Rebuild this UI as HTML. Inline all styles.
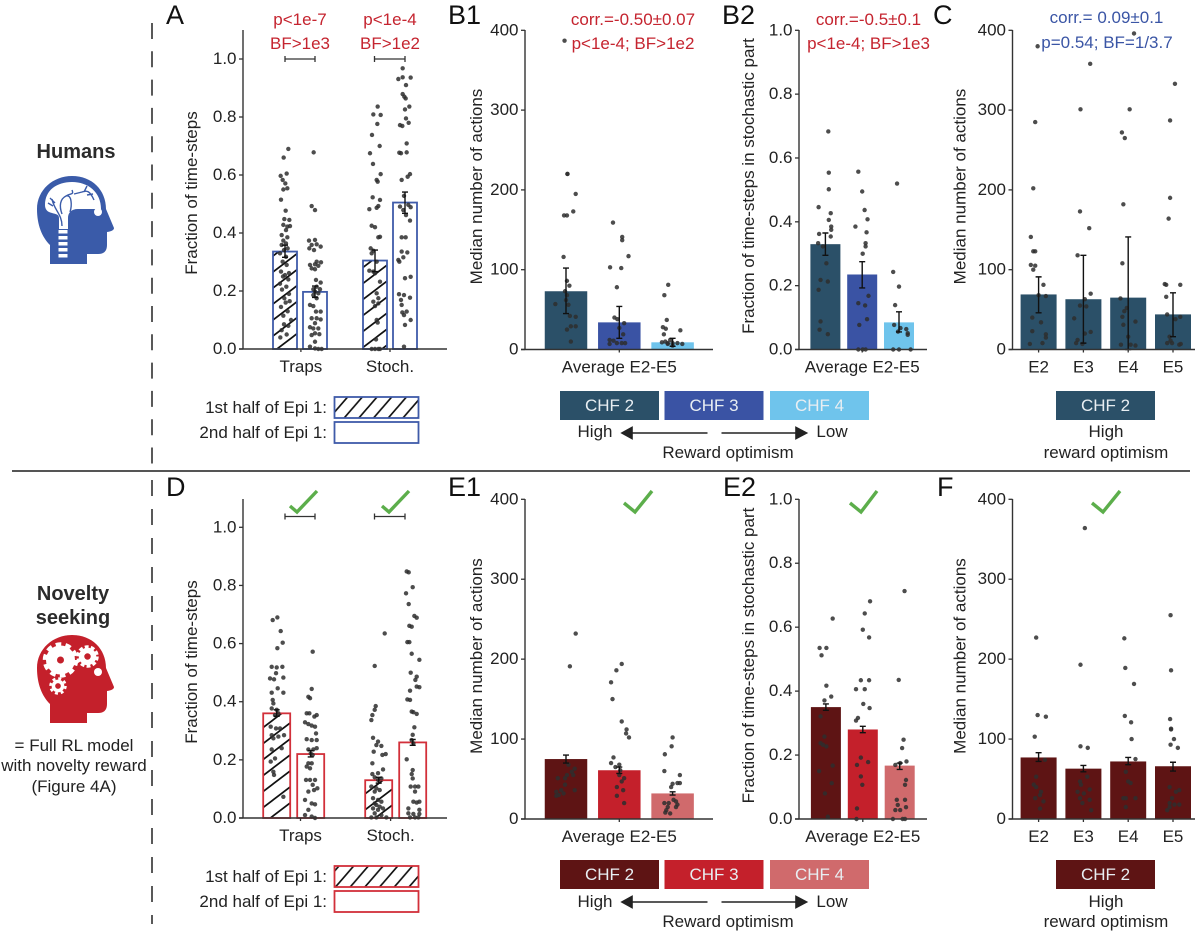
<!DOCTYPE html>
<html lang="en">
<head>
<meta charset="utf-8">
<title>Novelty seeking figure</title>
<style>
html,body{margin:0;padding:0;background:#fff;}
svg{display:block;font-family:"Liberation Sans",sans-serif;}
text{fill:#222;font-size:17px;}
.letter{font-size:27px;fill:#111;}
.red{fill:#c5242f;}
.blue{fill:#3a55a5;}
.m{text-anchor:middle;}
.e{text-anchor:end;}
.white{fill:#e8eef2;}
.head{font-size:20px;font-weight:bold;fill:#2b2b2b;text-anchor:middle;}
</style>
</head>
<body>
<svg id="fig" width="1200" height="933" viewBox="0 0 1200 933" xmlns="http://www.w3.org/2000/svg">
<defs>
<pattern id="hatch-bar" patternUnits="userSpaceOnUse" width="21" height="16"><path d="M-21 16 L21 -16 M0 16 L21 0 M0 32 L42 0" stroke="#111" stroke-width="1.7" fill="none"/></pattern>
<pattern id="hatch-leg" patternUnits="userSpaceOnUse" width="14.7" height="17"><path d="M-14.7 17 L14.7 -17 M0 17 L14.7 0 M0 34 L29.4 0" stroke="#111" stroke-width="1.7" fill="none"/></pattern>
</defs>
<rect width="1200" height="933" fill="#fff"/>

<line x1="12" y1="471" x2="1190" y2="471" stroke="#555" stroke-width="2"/>
<line x1="152" y1="23" x2="152" y2="467" stroke="#222" stroke-width="1.5" stroke-dasharray="16 12.3"/>
<line x1="152" y1="480" x2="152" y2="924" stroke="#222" stroke-width="1.5" stroke-dasharray="16 13"/>

<!-- Left column -->
<text class="head" x="76" y="158">Humans</text>
<g>
<path d="M50 264 V245 C42 237 37 225 37 209 C37 190 53 176 72 176 C92 176 106 190 106 209 L114 228 Q114 231 107 232 V245 Q107 254 98 254 H87 V264 Z" fill="#3a5ba9"/>
<path d="M45 205 C45 190 57 182 72 182 C88 182 101 192 101 209 H78 C71 209 68 213 68 218 V229 H59 V218 C59 214 55 214 52 213 C47 212 45 209 45 205 Z" fill="#fff"/>
<g fill="#fff"><rect x="58.5" y="230" width="9" height="3.5"/><rect x="58.5" y="236" width="9" height="3.5"/><rect x="58.5" y="242" width="9" height="3.5"/><rect x="58.5" y="248" width="9" height="3.5"/><rect x="58.5" y="254" width="9" height="3.5"/></g>
<path d="M62 226 C62 214 54 210 52 199 M50 198 L55 203 M48 203 L53 206 M62 214 C59 206 60 199 66 196 C71 193 74 195 72 190 M66 196 C72 194 72 206 70 212 M74 194 L82 192 C87 190 90 191 94 200 M84 192 L87 186 M87 195 L93 194" fill="none" stroke="#3a5ba9" stroke-width="1.4"/>
<circle cx="98" cy="212" r="4" fill="#fff"/>
</g>

<text class="head" x="73" y="600">Novelty</text>
<text class="head" x="73" y="624">seeking</text>
<g>
<path d="M50 723 V704 C42 696 37 684 37 668 C37 649 53 635 72 635 C92 635 106 649 106 668 L114 687 Q114 690 107 691 V704 Q107 713 98 713 H87 V723 Z" fill="#c4202b"/>
<circle cx="60.5" cy="660" r="9" fill="none" stroke="#fff" stroke-width="11"/>
<circle cx="60.5" cy="660" r="15.5" fill="none" stroke="#fff" stroke-width="4.5" stroke-dasharray="5.5 4.24"/>
<circle cx="87.5" cy="656.5" r="6" fill="none" stroke="#fff" stroke-width="5.5"/>
<circle cx="87.5" cy="656.5" r="9.5" fill="none" stroke="#fff" stroke-width="3.5" stroke-dasharray="3.8 2.17"/>
<circle cx="58" cy="686" r="4.6" fill="none" stroke="#fff" stroke-width="3.5"/>
<circle cx="58" cy="686" r="7.5" fill="none" stroke="#fff" stroke-width="2.5" stroke-dasharray="3 2.89"/>
<circle cx="98" cy="672" r="4" fill="#fff"/>
</g>
<text class="m" x="74" y="751">= Full RL model</text>
<text class="m" x="74" y="771">with novelty reward</text>
<text class="m" x="74" y="792">(Figure 4A)</text>

<!-- Panel letters -->
<text class="letter" x="166" y="24">A</text>
<text class="letter" x="448" y="24">B1</text>
<text class="letter" x="722" y="24">B2</text>
<text class="letter" x="933" y="24">C</text>
<text class="letter" x="166" y="496">D</text>
<text class="letter" x="448" y="496">E1</text>
<text class="letter" x="723" y="496">E2</text>
<text class="letter" x="937" y="496">F</text>

<!-- Annotations -->
<text class="red m" x="300" y="25">p&lt;1e-7</text>
<text class="red m" x="300" y="49">BF&gt;1e3</text>
<text class="red m" x="390" y="25">p&lt;1e-4</text>
<text class="red m" x="390" y="49">BF&gt;1e2</text>
<path d="M285 56 V62 M285 59 H315 M315 56 V62 M374.5 56 V62 M374.5 59 H405 M405 56 V62" stroke="#333" stroke-width="1.3" fill="none"/>
<path d="M285 513.5 V519.5 M285 516.5 H315 M315 513.5 V519.5 M374.5 513.5 V519.5 M374.5 516.5 H405 M405 513.5 V519.5" stroke="#333" stroke-width="1.3" fill="none"/>
<text class="red m" x="633" y="25">corr.=-0.50±0.07</text>
<text class="red m" x="633" y="49">p&lt;1e-4; BF&gt;1e2</text>
<text class="red m" x="868.5" y="25">corr.=-0.5±0.1</text>
<text class="red m" x="868.5" y="49">p&lt;1e-4; BF&gt;1e3</text>
<text class="blue m" x="1106.5" y="23">corr.= 0.09±0.1</text>
<text class="blue m" x="1107" y="48">p=0.54; BF=1/3.7</text>

<g fill="none" stroke="#5cae4b" stroke-width="3.4">
<path d="M290 506 L297 512 L317 491"/>
<path d="M382 506 L389 512 L409 491"/>
<path d="M624 503 L635 512 L652 491"/>
<path d="M850 503 L861 512 L877 491"/>
<path d="M1092 503 L1103 512 L1120 491"/>
</g>

<!-- Hatch legends -->
<text class="e" x="327" y="413">1st half of Epi 1:</text>
<rect x="334.5" y="397" width="84" height="21" fill="url(#hatch-leg)" stroke="#3f5ba9" stroke-width="1.8"/>
<text class="e" x="327" y="438">2nd half of Epi 1:</text>
<rect x="334.5" y="422" width="84" height="21" fill="#fff" stroke="#3f5ba9" stroke-width="1.8"/>
<text class="e" x="327" y="882">1st half of Epi 1:</text>
<rect x="334.5" y="866" width="84" height="21" fill="url(#hatch-leg)" stroke="#d2303a" stroke-width="1.8"/>
<text class="e" x="327" y="907">2nd half of Epi 1:</text>
<rect x="334.5" y="891" width="84" height="21" fill="#fff" stroke="#d2303a" stroke-width="1.8"/>

<!-- CHF legends top -->
<g>
<rect x="560" y="391" width="99" height="29" fill="#2b5068"/>
<text class="m white" x="609.5" y="411">CHF 2</text>
<rect x="664.5" y="391" width="99" height="29" fill="#3a53a4"/>
<text class="m white" x="714" y="411">CHF 3</text>
<rect x="770" y="391" width="99" height="29" fill="#6fc4ec"/>
<text class="m white" x="819.5" y="411">CHF 4</text>
<rect x="1056" y="391" width="99" height="29" fill="#2b5068"/>
<text class="m white" x="1105.5" y="411">CHF 2</text>
</g>
<text class="m" x="595" y="437">High</text>
<path d="M707.5 433 H625 M632 427.5 L622 433 L632 438.5 Z" stroke="#222" stroke-width="1.6" fill="#222"/>
<path d="M721.5 433 H803 M796 427.5 L806.5 433 L796 438.5 Z" stroke="#222" stroke-width="1.6" fill="#222"/>
<text class="m" x="832" y="437">Low</text>
<text class="m" x="728" y="458">Reward optimism</text>
<text class="m" x="1106" y="437">High</text>
<text class="m" x="1106" y="458">reward optimism</text>

<!-- CHF legends bottom -->
<g>
<rect x="560" y="860" width="99" height="29" fill="#5e1414"/>
<text class="m white" x="609.5" y="880">CHF 2</text>
<rect x="664.5" y="860" width="99" height="29" fill="#c4202b"/>
<text class="m white" x="714" y="880">CHF 3</text>
<rect x="770" y="860" width="99" height="29" fill="#d06a6c"/>
<text class="m white" x="819.5" y="880">CHF 4</text>
<rect x="1056" y="860" width="99" height="29" fill="#5e1414"/>
<text class="m white" x="1105.5" y="880">CHF 2</text>
</g>
<text class="m" x="595" y="907">High</text>
<path d="M707.5 902 H625 M632 896.5 L622 902 L632 907.5 Z" stroke="#222" stroke-width="1.6" fill="#222"/>
<path d="M721.5 902 H803 M796 896.5 L806.5 902 L796 907.5 Z" stroke="#222" stroke-width="1.6" fill="#222"/>
<text class="m" x="832" y="907">Low</text>
<text class="m" x="728" y="927">Reward optimism</text>
<text class="m" x="1106" y="907">High</text>
<text class="m" x="1106" y="927">reward optimism</text>

<g id="charts"></g>
</svg>

<script>
/* ---- tick labels ---- */
const fractionTicks = [0, 0.2, 0.4, 0.6, 0.8, 1.0];
const fractionTickLabels = ['0.0', '0.2', '0.4', '0.6', '0.8', '1.0'];
const actionTicks = [0, 100, 200, 300, 400];
const actionTickLabels = ['0', '100', '200', '300', '400'];
const trapCategories = ['Traps', 'Stoch.'];
const averageCategories = ['Average E2-E5'];
const episodeCategories = ['E2', 'E3', 'E4', 'E5'];

/* ---- panel A: bars ---- */
const aMeans = [0.336, 0.197, 0.305, 0.505];
const aErrLow = [0.316, 0.178, 0.267, 0.468];
const aErrHigh = [0.358, 0.217, 0.341, 0.541];
/* ---- panel A: points ---- */
const aTrapsFirstValues = [.69,.66,.605,.597,.583,.571,.554,.55,.515,.477,.448,.445,.428,.422,.424,.41,.393,.385,.374,.364,.359,.347,.341,.33,.318,.301,.29,.267,.262,.255,.25,.24,.225,.215,.205,.19,.175,.165,.16,.145,.13,.115,.1,.085,.08,.065,.05,.04];
const aTrapsFirstJitter = [10,-4,5,-13,-7,1,7,-5,-12,2,-2,13,-5,7,15,3,-10,7,-5,3,-10,8,-3,-15,3,-7,5,-12,12,0,-6,10,-15,4,-9,12,-2,14,2,-12,8,-5,18,-3,10,-10,5,-14];
const aTrapsSecondValues = [.678,.493,.479,.374,.376,.361,.359,.353,.347,.341,.301,.299,.29,.292,.287,.278,.275,.238,.229,.215,.206,.206,.198,.192,.186,.175,.152,.148,.129,.129,.106,.106,.102,.089,.075,.071,.071,.054,.051,.048,.025,.008,.002,0,0];
const aTrapsSecondJitter = [-4,-10,0,-18,0,5,-10,17,-17,-3,5,18,-15,0,10,-10,0,3,17,5,-5,15,0,10,-5,5,-15,-5,3,17,-10,5,17,0,-15,-5,10,0,13,-10,0,-15,0,10,20];
const aStochFirstValues = [.836,.809,.807,.776,.738,.7,.675,.638,.603,.583,.577,.523,.514,.493,.482,.487,.425,.42,.387,.385,.347,.339,.33,.301,.27,.267,.261,.232,.192,.175,.163,.157,.148,.1,.091,.033,0,0,0,0];
const aStochFirstJitter = [8,-5,17,7,-9,14,-15,-6,17,5,8,-7,15,10,-17,5,-10,0,15,10,-13,-5,-10,5,-17,-5,0,15,5,10,-5,10,0,5,8,3,-10,0,10,15];
const aStochSecondValues = [.968,.931,.937,.936,.91,.879,.87,.864,.836,.826,.795,.78,.772,.769,.709,.677,.675,.678,.603,.594,.583,.528,.491,.497,.489,.479,.462,.443,.385,.385,.336,.333,.307,.316,.301,.244,.249,.189,.186,.177,.169,.152,.126,.129,.117,.1,.083,.008];
const aStochSecondJitter = [-7,-20,-7,17,3,-7,-2,2,13,0,3,11,-15,-8,5,-17,-12,5,15,8,-10,-3,-15,10,17,-5,3,15,-10,2,-10,7,-20,-5,-17,0,17,-18,-3,15,-12,-10,-8,5,-3,17,0,-3];

/* ---- panel B1 ---- */
const b1Means = [73, 34, 9];
const b1ErrLow = [45, 14, 4];
const b1ErrHigh = [102, 54, 14];
const b1Chf2Values = [387,220,220,195,173,168,168,116,86,80,73,68,62,57,56,42,41,29,29,25,10];
const b1Chf2Jitter = [-3,3,3,20,15,-4,2,-5,2,7,-2,2,0,-22,5,8,20,10,20,2,10];
const b1Chf3Values = [159,141,137,117,103,102,78,40,38,33,27,19,12,11,8,7,8,8];
const b1Chf3Jitter = [-13,6,6,19,-19,4,-5,-10,-4,10,0,8,-20,-12,-5,-20,5,12];
const b1Chf4Values = [81,68,37,28,26,24,19,12,10,9,8,8,8,7,5,7];
const b1Chf4Jitter = [-9,-17,-12,-20,-14,16,-18,-5,-15,-22,-10,0,10,20,0,-10];

/* ---- panel B2 ---- */
const b2Means = [0.33, 0.235, 0.085];
const b2ErrLow = [0.295, 0.193, 0.055];
const b2ErrHigh = [0.365, 0.275, 0.118];
const b2Chf2Values = [.683,.554,.502,.446,.427,.406,.385,.375,.354,.362,.333,.323,.27,.218,.213,.187,.088,.062,.048];
const b2Chf2Jitter = [6,7,7,-14,11,7,12,12,11,-13,-15,-5,2,-10,5,-14,-10,-12,5];
const b2Chf3Values = [.557,.495,.437,.408,.385,.367,.333,.323,.3,.168,.145,.138,.095,.077,0,0,0];
const b2Chf3Jitter = [-8,0,5,11,-14,9,7,7,1,13,-8,6,10,-6,-8,1,7];
const b2Chf4Values = [.52,.243,.197,.139,.077,.067,.064,.051,.056,.046,0,0,0];
const b2Chf4Jitter = [-4,-12,0,-8,-10,3,15,18,-2,18,-12,0,24];

/* ---- panel C ---- */
const cMeans = [69, 63, 65, 44];
const cErrLow = [46, 8, 0, 16];
const cErrHigh = [91, 118, 141, 71];
const cE2Values = [380,285,202,141,123,123,106,105,100,81,68,67,40,34,23,19,15,8,7];
const cE2Jitter = [-2,-7,-11,-16,-11,-7,-16,-7,-11,10,0,15,-13,5,-13,15,15,8,-18];
const cE3Values = [358,301,173,152,118,70,63,55,54,39,22,20,12,8,7];
const cE3Jitter = [14,-6,-7,12,-12,15,3,-7,6,-19,15,3,-12,-15,-2];
const cE4Values = [396,301,272,265,182,108,64,52,48,35,41,31,16,6,6,5];
const cE4Jitter = [12,3,-13,-7,-10,-12,-16,-3,-8,15,-12,-10,0,-15,5,15];
const cE5Values = [333,287,190,164,82,81,81,66,44,41,38,16,8,6,8,7,11];
const cE5Jitter = [4,-6,-6,-9,-17,-14,15,-14,-12,15,5,-7,-2,13,-12,16,-5];

/* ---- panel D ---- */
const dMeans = [0.36, 0.22, 0.13, 0.26];
const dErrLow = [0.35, 0.21, 0.12, 0.25];
const dErrHigh = [0.372, 0.232, 0.14, 0.27];
const dTrapsFirstValues = [.69,.681,.643,.603,.584,.52,.518,.52,.498,.48,.477,.483,.446,.431,.431,.406,.394,.377,.372,.36,.354,.314,.308,.308,.285,.28,.285,.274,.24,.236,.205,.194,.159,.148,.073];
const dTrapsFirstJitter = [2,-12,12,18,2,-15,0,17,-2,-20,-8,20,3,-15,20,-12,-10,-15,0,5,-5,-18,-2,10,-15,5,22,-10,15,-15,-5,-18,-10,-8,20];
const dTrapsSecondValues = [.572,.444,.417,.412,.36,.36,.354,.349,.329,.323,.318,.314,.291,.268,.271,.268,.236,.236,.24,.222,.217,.188,.188,.177,.171,.131,.131,.131,.114,.102,.096,.091,.062,.05,.047,.028,.01,.005,0];
const dTrapsSecondJitter = [6,3,-7,-2,-12,-4,18,11,-17,-7,3,13,16,18,-12,3,-7,8,18,0,6,-7,3,-12,-2,-14,-2,13,6,20,10,-7,-17,3,13,-7,-17,3,13];
const dStochFirstValues = [.635,.523,.385,.372,.354,.337,.276,.263,.248,.251,.228,.22,.217,.188,.167,.151,.154,.14,.136,.131,.108,.102,.091,.096,.068,.062,.056,.05,.045,.039,.033,.033,.028,.016,.01,.002,.002,.002];
const dStochFirstJitter = [18,-12,-9,-12,-19,-22,-17,-2,8,-7,-15,21,11,-19,13,-19,-2,-12,8,-2,-22,-7,-12,3,-17,-2,8,-12,-7,3,-17,13,-2,-12,8,-22,-7,23];
const dStochSecondValues = [.848,.845,.794,.773,.736,.695,.689,.661,.658,.605,.605,.565,.544,.5,.486,.475,.452,.45,.438,.408,.406,.366,.364,.358,.312,.286,.268,.257,.202,.165,.151,.136,.108,.108,.108,.091,.056,.053,.056,.033,.028,.016,.014,.014,.002,.002,.002];
const dStochSecondJitter = [-18,-12,0,-20,-12,5,12,-10,-3,-16,-10,-3,20,-6,12,8,12,20,-8,-16,-8,-3,2,12,5,0,-3,2,-18,0,-3,0,-6,7,17,7,2,12,20,-13,20,-13,2,20,-8,7,17];

/* ---- panel E1 ---- */
const e1Means = [75, 61, 32];
const e1ErrLow = [70, 57, 30];
const e1ErrHigh = [80, 65, 34];
const e1Chf2Values = [232,191,63,59,55,55,68,51,51,43,36,34,36,30,32,29];
const e1Chf2Jitter = [20,8,18,12,15,2,5,-2,-17,-2,-10,-20,18,-15,-5,-20];
const e1Chf3Values = [194,186,171,150,122,112,107,102,77,70,68,65,61,55,51,47,40,36,29,20];
const e1Chf3Jitter = [5,-6,-17,-14,5,15,14,20,-12,-17,0,-8,2,0,10,5,-5,8,-5,10];
const e1Chf4Values = [102,91,81,60,55,45,44,45,40,20,24,22,20,18,15,15,11,7,8];
const e1Chf4Jitter = [0,-2,-16,-17,15,10,0,15,-3,-17,2,7,-8,10,-10,7,-13,-5,-15];

/* ---- panel E2 ---- */
const e2Means = [0.35, 0.28, 0.167];
const e2ErrLow = [0.34, 0.27, 0.155];
const e2ErrHigh = [0.36, 0.29, 0.175];
const e2Chf2Values = [.627,.535,.535,.512,.417,.383,.371,.321,.258,.237,.232,.227,.167,.15,.112,.08,.007];
const e2Chf2Jitter = [14,-13,1,-9,1,11,-3,-11,-3,-11,-6,1,14,-14,12,-2,4];
const e2Chf3Values = [.681,.643,.592,.568,.434,.434,.406,.406,.36,.347,.316,.308,.192,.169,.178,.133,.107,.033,0];
const e2Chf3Jitter = [15,4,0,13,-4,13,-14,4,1,14,-10,-14,-4,-12,11,-4,-1,-12,-13];
const e2Chf4Values = [.713,.435,.248,.222,.18,.175,.169,.122,.107,.06,.06,.044,.037,.028,.028,0,0,0];
const e2Chf4Jitter = [10,-2,8,5,14,1,-9,13,11,-6,11,-4,13,1,-9,-14,6,11];

/* ---- panel F ---- */
const fMeans = [77, 63, 72, 66];
const fErrLow = [72, 59, 68, 60];
const fErrHigh = [83, 67, 77, 71];
const fE2Values = [227,130,128,103,74,53,43,40,34,30,26,22,13];
const fE2Jitter = [-5,-2,15,-8,13,-5,-10,-5,5,3,-7,10,3];
const fE3Values = [364,193,91,89,47,53,43,37,34,32,26,24,20,11];
const fE3Jitter = [3,-6,-6,9,-7,8,-5,13,-12,1,-7,13,-2,16];
const fE4Values = [226,189,169,129,121,100,59,75,47,45,26,26,26,15];
const fE4Jitter = [-8,-6,12,-7,6,7,-5,15,0,5,-10,-5,15,-5];
const fE5Values = [255,186,125,113,112,100,93,89,40,36,34,26,20,18,18,15,11];
const fE5Jitter = [-5,-4,-6,-4,-4,2,-5,10,-7,13,6,-2,-7,13,3,-7,-12];

const SVGNS = 'http://www.w3.org/2000/svg';
const root = document.getElementById('charts');

function mk(tag, parent, attrs, txt) {
  const n = document.createElementNS(SVGNS, tag);
  for (const k in attrs) n.setAttribute(k, attrs[k]);
  if (txt !== undefined) n.textContent = txt;
  parent.appendChild(n);
  return n;
}

function drawPanel(p) {
  const g = mk('g', root, {});
  
  

  const yScale = v => p.yZero - v * (p.yZero - p.yOne) / p.yUnit;
  const xScale = s => p.xFirst + s * p.xStep;

  /* bars */
  p.means.forEach((m, i) => {
    const cx = xScale(p.slots[i]);
    const top = yScale(m);
    const bar = mk('rect', g, {
      x: cx - p.barW / 2, y: top, width: p.barW, height: yScale(0) - top,
      fill: p.fills[i], stroke: p.strokes ? p.strokes[i] : 'none', 'stroke-width': 1.8
    });
    
    
  });

  /* points */
  p.points.forEach((pts, i) => {
    const cx = xScale(p.slots[i]);
    pts.values.forEach((v, k) => {
      const dot = mk('circle', g, {
        cx: cx + pts.jitter[k] * p.jitterScale, cy: yScale(v), r: 2.2,
        fill: '#2e2e2e', 'fill-opacity': 0.85
      });
      
      
    });
  });

  /* error bars */
  p.means.forEach((m, i) => {
    const cx = xScale(p.slots[i]);
    const lo = yScale(p.errLow[i]);
    const hi = yScale(p.errHigh[i]);
    const err = mk('path', g, {
      d: 'M' + cx + ' ' + lo + 'V' + hi + 'M' + (cx - 3) + ' ' + lo + 'H' + (cx + 3) + 'M' + (cx - 3) + ' ' + hi + 'H' + (cx + 3),
      stroke: '#111', 'stroke-width': 1.4, fill: 'none'
    });
    
    
  });

  /* axes */
  const yAxis = mk('line', g, { x1: p.axisX, x2: p.axisX, y1: p.yTop, y2: p.yZero, stroke: '#333', 'stroke-width': 1.4 });
  
  
  const xAxis = mk('line', g, { x1: p.axisX - 4, x2: p.xEnd, y1: p.yZero, y2: p.yZero, stroke: '#333', 'stroke-width': 1.4 });
  
  

  p.yTicks.forEach((t, i) => {
    const y = yScale(t);
    const tick = mk('line', g, { x1: p.axisX - 4, x2: p.axisX, y1: y, y2: y, stroke: '#333', 'stroke-width': 1.3 });
    
    
    const label = mk('text', g, { x: p.axisX - 6.5, y: y + 5, 'text-anchor': 'end' }, p.yTickLabels[i]);
    
    
  });

  p.categories.forEach((c, i) => {
    const x = xScale(p.catSlots[i]);
    const tick = mk('line', g, { x1: x, x2: x, y1: p.yZero, y2: p.yZero + 3, stroke: '#333', 'stroke-width': 1.3 });
    
    
    const label = mk('text', g, { x: x, y: p.yZero + 23, 'text-anchor': 'middle' }, c);
    
    
  });

  const yc = p.labelY;
  const title = mk('text', g, { x: p.labelX, y: yc, 'text-anchor': 'middle', transform: 'rotate(-90 ' + p.labelX + ' ' + yc + ')' }, p.yTitle);
  
  
}

const dark = '#2b5068', mid = '#3a53a4', light = '#6fc4ec';
const maroon = '#5e1414', red = '#c4202b', pink = '#d06a6c';
const HB = 'url(#hatch-bar)';
const TOP = { yZero: 349.5, yTop: 30 };
const BOT = { yZero: 819, yTop: 499 };

drawPanel({ name: 'panel-a-chart', axisX: 243, xEnd: 447, yZero: 349, yOne: 59, yUnit: 1, yTop: 30,
  yTicks: fractionTicks, yTickLabels: fractionTickLabels, yTitle: 'Fraction of time-steps', labelX: 197, labelY: 193,
  xFirst: 285, xStep: 30, slots: [0, 1, 3, 4], barW: 24, jitterScale: 1 / 3,
  categories: trapCategories, catSlots: [0.53, 3.5],
  means: aMeans, errLow: aErrLow, errHigh: aErrHigh,
  fills: [HB, '#fff', HB, '#fff'], strokes: ['#3f5ba9', '#3f5ba9', '#3f5ba9', '#3f5ba9'],
  points: [{ values: aTrapsFirstValues, jitter: aTrapsFirstJitter }, { values: aTrapsSecondValues, jitter: aTrapsSecondJitter }, { values: aStochFirstValues, jitter: aStochFirstJitter }, { values: aStochSecondValues, jitter: aStochSecondJitter }] });

drawPanel({ name: 'panel-b1-chart', axisX: 525, xEnd: 713, yZero: TOP.yZero, yOne: 30.3, yUnit: 400, yTop: TOP.yTop,
  yTicks: actionTicks, yTickLabels: actionTickLabels, yTitle: 'Median number of actions', labelX: 482, labelY: 186.5,
  xFirst: 566, xStep: 53.3, slots: [0, 1, 2], barW: 42.5, jitterScale: 1 / 2.063,
  categories: averageCategories, catSlots: [1],
  means: b1Means, errLow: b1ErrLow, errHigh: b1ErrHigh, fills: [dark, mid, light],
  points: [{ values: b1Chf2Values, jitter: b1Chf2Jitter }, { values: b1Chf3Values, jitter: b1Chf3Jitter }, { values: b1Chf4Values, jitter: b1Chf4Jitter }] });

drawPanel({ name: 'panel-b2-chart', axisX: 799, xEnd: 927, yZero: TOP.yZero, yOne: 30.3, yUnit: 1, yTop: TOP.yTop,
  yTicks: fractionTicks, yTickLabels: fractionTickLabels, yTitle: 'Fraction of time-steps in stochastic part', labelX: 754, labelY: 186,
  xFirst: 825.4, xStep: 36.8, slots: [0, 1, 2], barW: 30, jitterScale: 1 / 2.063,
  categories: averageCategories, catSlots: [1],
  means: b2Means, errLow: b2ErrLow, errHigh: b2ErrHigh, fills: [dark, mid, light],
  points: [{ values: b2Chf2Values, jitter: b2Chf2Jitter }, { values: b2Chf3Values, jitter: b2Chf3Jitter }, { values: b2Chf4Values, jitter: b2Chf4Jitter }] });

drawPanel({ name: 'panel-c-chart', axisX: 1012.5, xEnd: 1195, yZero: TOP.yZero, yOne: 30.3, yUnit: 400, yTop: TOP.yTop,
  yTicks: actionTicks, yTickLabels: actionTickLabels, yTitle: 'Median number of actions', labelX: 965.5, labelY: 186.5,
  xFirst: 1038.6, xStep: 44.8, slots: [0, 1, 2, 3], barW: 36, jitterScale: 1 / 2.063,
  categories: episodeCategories, catSlots: [0, 1, 2, 3],
  means: cMeans, errLow: cErrLow, errHigh: cErrHigh, fills: [dark, dark, dark, dark],
  points: [{ values: cE2Values, jitter: cE2Jitter }, { values: cE3Values, jitter: cE3Jitter }, { values: cE4Values, jitter: cE4Jitter }, { values: cE5Values, jitter: cE5Jitter }] });

drawPanel({ name: 'panel-d-chart', axisX: 243, xEnd: 447, yZero: 818, yOne: 527.3, yUnit: 1, yTop: BOT.yTop,
  yTicks: fractionTicks, yTickLabels: fractionTickLabels, yTitle: 'Fraction of time-steps', labelX: 197, labelY: 662,
  xFirst: 276.7, xStep: 34, slots: [0, 1, 3, 4], barW: 27, jitterScale: 1 / 3,
  categories: trapCategories, catSlots: [0.7, 3.35],
  means: dMeans, errLow: dErrLow, errHigh: dErrHigh,
  fills: [HB, '#fff', HB, '#fff'], strokes: ['#d2303a', '#d2303a', '#d2303a', '#d2303a'],
  points: [{ values: dTrapsFirstValues, jitter: dTrapsFirstJitter }, { values: dTrapsSecondValues, jitter: dTrapsSecondJitter }, { values: dStochFirstValues, jitter: dStochFirstJitter }, { values: dStochSecondValues, jitter: dStochSecondJitter }] });

drawPanel({ name: 'panel-e1-chart', axisX: 525, xEnd: 713, yZero: BOT.yZero, yOne: 499.3, yUnit: 400, yTop: BOT.yTop,
  yTicks: actionTicks, yTickLabels: actionTickLabels, yTitle: 'Median number of actions', labelX: 482, labelY: 656,
  xFirst: 566, xStep: 53.3, slots: [0, 1, 2], barW: 42.5, jitterScale: 1 / 2.063,
  categories: averageCategories, catSlots: [1],
  means: e1Means, errLow: e1ErrLow, errHigh: e1ErrHigh, fills: [maroon, red, pink],
  points: [{ values: e1Chf2Values, jitter: e1Chf2Jitter }, { values: e1Chf3Values, jitter: e1Chf3Jitter }, { values: e1Chf4Values, jitter: e1Chf4Jitter }] });

drawPanel({ name: 'panel-e2-chart', axisX: 799, xEnd: 927, yZero: BOT.yZero, yOne: 499.3, yUnit: 1, yTop: BOT.yTop,
  yTicks: fractionTicks, yTickLabels: fractionTickLabels, yTitle: 'Fraction of time-steps in stochastic part', labelX: 754, labelY: 655.5,
  xFirst: 825.9, xStep: 36.9, slots: [0, 1, 2], barW: 30, jitterScale: 1 / 2.063,
  categories: averageCategories, catSlots: [1],
  means: e2Means, errLow: e2ErrLow, errHigh: e2ErrHigh, fills: [maroon, red, pink],
  points: [{ values: e2Chf2Values, jitter: e2Chf2Jitter }, { values: e2Chf3Values, jitter: e2Chf3Jitter }, { values: e2Chf4Values, jitter: e2Chf4Jitter }] });

drawPanel({ name: 'panel-f-chart', axisX: 1012.5, xEnd: 1195, yZero: BOT.yZero, yOne: 499.3, yUnit: 400, yTop: BOT.yTop,
  yTicks: actionTicks, yTickLabels: actionTickLabels, yTitle: 'Median number of actions', labelX: 965.5, labelY: 656,
  xFirst: 1038.6, xStep: 44.8, slots: [0, 1, 2, 3], barW: 36, jitterScale: 1 / 2.063,
  categories: episodeCategories, catSlots: [0, 1, 2, 3],
  means: fMeans, errLow: fErrLow, errHigh: fErrHigh, fills: [maroon, maroon, maroon, maroon],
  points: [{ values: fE2Values, jitter: fE2Jitter }, { values: fE3Values, jitter: fE3Jitter }, { values: fE4Values, jitter: fE4Jitter }, { values: fE5Values, jitter: fE5Jitter }] });
</script>
</body>
</html>
